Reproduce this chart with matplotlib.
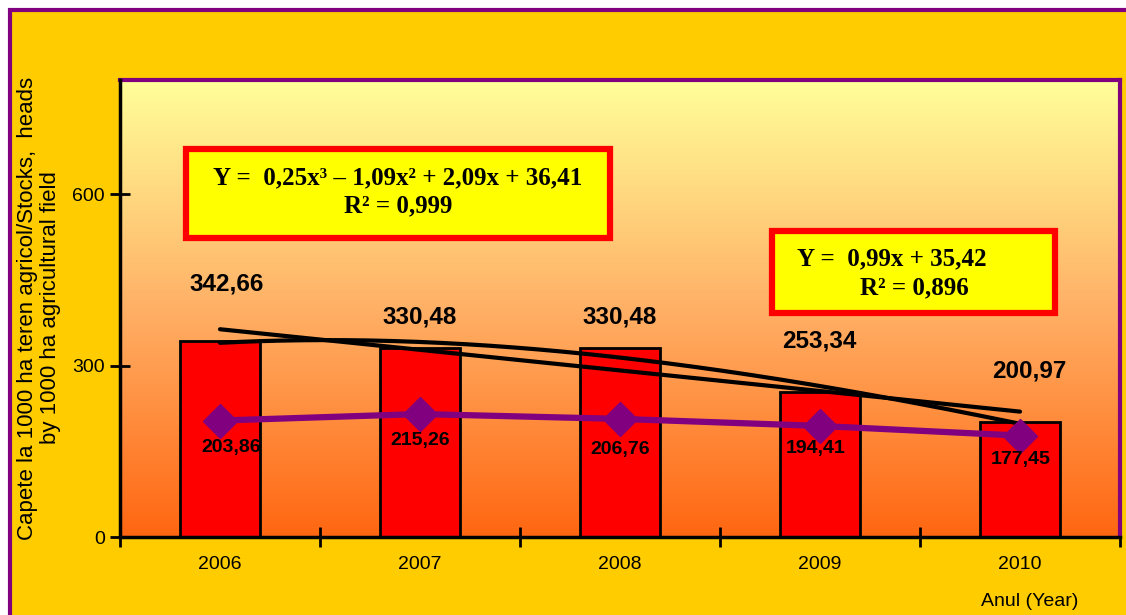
import numpy as np
import matplotlib
matplotlib.use("Agg")
import matplotlib.pyplot as plt
from matplotlib.patches import Rectangle
from matplotlib.colors import LinearSegmentedColormap

# ---- data ----
years = ["2006", "2007", "2008", "2009", "2010"]
stocks = [342.66, 330.48, 330.48, 253.34, 200.97]
density = [203.86, 215.26, 206.76, 194.41, 177.45]
bar_labels = ["342,66", "330,48", "330,48", "253,34", "200,97"]
line_labels = ["203,86", "215,26", "206,76", "194,41", "177,45"]
eq_cubic = ["Y =  0,25x\u00b3 \u2013 1,09x\u00b2 + 2,09x + 36,41", "R\u00b2 = 0,999"]
eq_linear = ["Y =  0,99x + 35,42", "R\u00b2 = 0,896"]
ylabel_lines = "Capete la 1000 ha teren agricol/Stocks,  heads\nby 1000 ha agricultural field"
xlabel = "Anul (Year)"

# label placement tweaks (styles, not data)
bar_lab_dx = [0.035, 0.0, 0.0, -0.005, 0.045]
bar_lab_dy = [101, 55, 55, 90, 89]
line_lab_dx = [0.055, 0.0, 0.0, -0.02, 0.005]
line_lab_dy = [-47, -47, -53, -40, -41]

W, H = 1126, 615
fig = plt.figure(figsize=(W / 100, H / 100), dpi=100)
fig.patch.set_facecolor("white")

# outer background with purple border
fig.add_artist(Rectangle((9.5 / W, -0.05), 1.2, (H - 9.5) / H + 0.05,
                         transform=fig.transFigure, facecolor="#FFCC00",
                         edgecolor="#800080", linewidth=3, zorder=-10))

ax = fig.add_axes([120 / W, (H - 537) / H, 1000 / W, 457 / H])
ax.set_facecolor("none")

x = np.arange(len(years))
ax.set_xlim(-0.5, 4.5)
ax.set_ylim(0, 800)

# gradient background
cmap = LinearSegmentedColormap.from_list("g", ["#FF6611", "#FFB066", "#FFFF99"])
grad = np.linspace(0, 1, 256).reshape(-1, 1)
ax.imshow(grad, aspect="auto", cmap=cmap, origin="lower",
          extent=(-0.5, 4.5, 0, 800), zorder=0)

# bars
ax.bar(x, stocks, width=0.4, color="#FF0000", edgecolor="black", linewidth=2, zorder=2)

# trend lines
xs = np.linspace(0, 4, 200)
c3 = np.polyfit(x, stocks, 3)
c1 = np.polyfit(x, stocks, 1)
ax.plot(xs, np.polyval(c3, xs), color="black", lw=3, zorder=3, solid_capstyle="round")
ax.plot(xs, np.polyval(c1, xs), color="black", lw=3, zorder=3, solid_capstyle="round")

# purple line
ax.plot(x, density, color="#800080", lw=4.5, marker="D", markersize=17, zorder=4)

# labels
for i in range(len(years)):
    ax.text(x[i] + bar_lab_dx[i], stocks[i] + bar_lab_dy[i], bar_labels[i],
            ha="center", va="center", fontsize=17.5, fontweight="bold",
            family="Liberation Sans", zorder=5)
    ax.text(x[i] + line_lab_dx[i], density[i] + line_lab_dy[i], line_labels[i],
            ha="center", va="center", fontsize=14, fontweight="bold",
            family="Liberation Sans", zorder=5)

# spines
for s in ["top", "right"]:
    ax.spines[s].set_color("#800080")
    ax.spines[s].set_linewidth(3)
for s in ["left", "bottom"]:
    ax.spines[s].set_color("black")
    ax.spines[s].set_linewidth(2.5)
    ax.spines[s].set_zorder(6)

ax.set_yticks([0, 300, 600])
ax.set_yticklabels(["0", "300", "600"], fontsize=14, family="Liberation Sans")
ax.set_xticks(np.arange(-0.5, 5, 1))
ax.set_xticklabels([])
ax.set_xticks(x, minor=True)
ax.set_xticklabels(years, minor=True, fontsize=14, family="Liberation Sans")
ax.tick_params(axis="x", which="major", direction="inout", length=14, width=2)
ax.tick_params(axis="x", which="minor", length=0, pad=14)
ax.tick_params(axis="y", direction="inout", length=14, width=2, pad=4)

# equation boxes (figure pixel coords)
def box(x0, y0, x1, y1):
    fig.add_artist(Rectangle((x0 / W, 1 - y1 / H), (x1 - x0) / W, (y1 - y0) / H,
                             transform=fig.transFigure, facecolor="#FFFF00",
                             edgecolor="#FF0000", linewidth=4.5, zorder=8))

box(186, 149, 610, 238)
box(772, 231, 1055, 313)
fig.text(398 / W, 1 - 178 / H, eq_cubic[0], ha="center", va="center", fontsize=18,
         fontweight="bold", family="Liberation Serif", zorder=9)
fig.text(398 / W, 1 - 206 / H, eq_cubic[1], ha="center", va="center", fontsize=18,
         fontweight="bold", family="Liberation Serif", zorder=9)
fig.text(797 / W, 1 - 259 / H, eq_linear[0], ha="left", va="center", fontsize=18,
         fontweight="bold", family="Liberation Serif", zorder=9)
fig.text(860 / W, 1 - 288 / H, eq_linear[1], ha="left", va="center", fontsize=18,
         fontweight="bold", family="Liberation Serif", zorder=9)

# axis titles
fig.text(39 / W, 1 - 308 / H, ylabel_lines, rotation=90, ha="center", va="center",
         multialignment="center", fontsize=16, family="Liberation Sans", linespacing=1.12)
fig.text(1030 / W, 1 - 602 / H, xlabel, ha="center", va="center", fontsize=14,
         family="Liberation Sans")

fig.savefig("out.png", dpi=100)
